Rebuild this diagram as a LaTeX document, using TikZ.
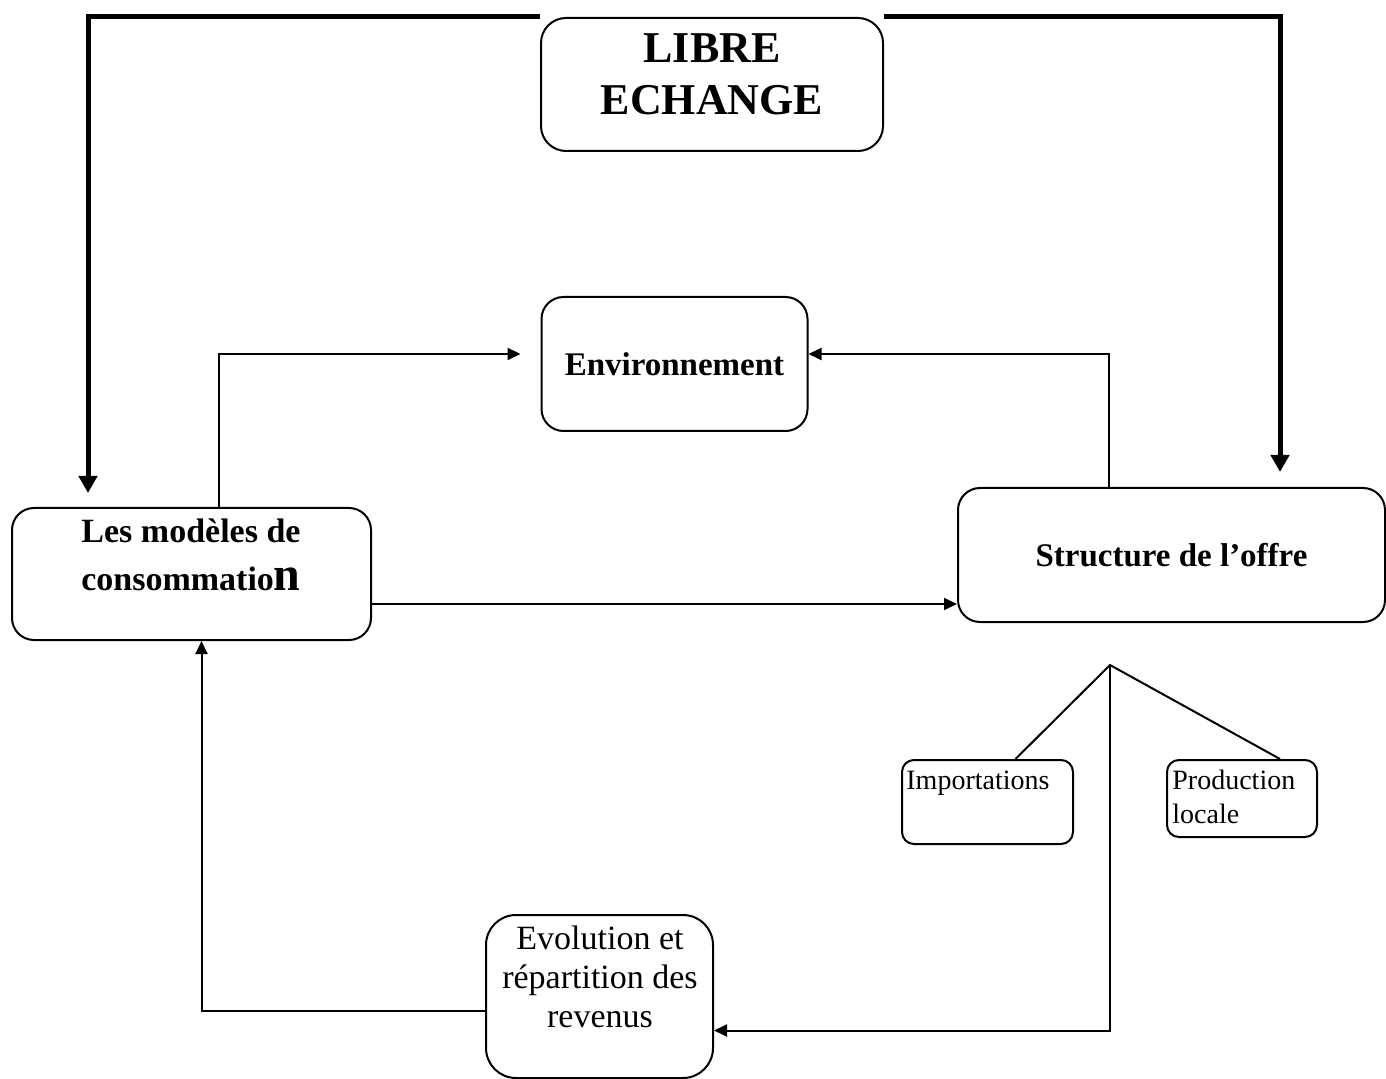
\documentclass[tikz,border=0pt]{standalone}
\usepackage{fontspec}
\newfontfamily\timesfont{Liberation Serif}
\usetikzlibrary{arrows.meta,positioning}

\begin{document}
\begin{tikzpicture}[
  x=0.5pt, y=-0.5pt,
  box/.style={draw, line width=1pt, rounded corners=11pt, inner sep=0pt},
  smallbox/.style={draw, line width=1pt, rounded corners=6pt, inner sep=0pt},
  boldtxt/.style={font=\timesfont\bfseries\fontsize{16.5}{20}\selectfont, align=center},
  plaintxt/.style={font=\timesfont\fontsize{14}{17}\selectfont, align=left, inner sep=0pt},
  arrow/.style={-{Triangle[length=6.5pt,width=6pt]}, line width=1pt},
  link/.style={line width=1pt},
  heavy/.style={-{Triangle[length=8.5pt,width=9pt]}, line width=2.5pt}
]
\useasboundingbox (0,0) rectangle (1386,1079);

% boxes
\node[box, rounded corners=12.5pt, minimum width=171pt, minimum height=66.5pt] (libre) at (712,84.5) {};
\node[box, minimum width=133pt, minimum height=67pt, boldtxt] (env) at (674.5,364) {Environnement};
\node[box, minimum width=179.5pt, minimum height=66pt] (modeles) at (191.5,574) {};
\node[box, minimum width=213.5pt, minimum height=67pt, boldtxt] (offre) at (1171.5,555) {Structure de l’offre};
\node[smallbox, minimum width=85.5pt, minimum height=42pt] (import) at (987.5,802) {};
\node[smallbox, minimum width=75pt, minimum height=38.5pt] (prod) at (1242,798.5) {};
\node[box, rounded corners=15pt, minimum width=113.5pt, minimum height=81.5pt] (evol) at (599.5,996.5) {};

% texts
\node[boldtxt, font=\timesfont\bfseries\fontsize{22}{26}\selectfont, inner sep=0pt] (libretxt) at ([yshift=5pt]libre.center) {LIBRE\\ECHANGE};
\node[boldtxt, font=\timesfont\bfseries\fontsize{17}{24}\selectfont, inner sep=0pt, anchor=north] (modelestxt) at (191,518)
  {Les modèles de\\consommatio{\fontsize{24}{24}\selectfont n}};
\node[plaintxt, anchor=north west] (importtxt) at (906,770.5) {Importations};
\node[plaintxt, anchor=north west] (prodtxt) at (1172,770) {Production\\locale};
\node[plaintxt, font=\timesfont\fontsize{17}{19.5}\selectfont, align=center, anchor=north] (evoltxt) at (600,926)
  {Evolution et\\répartition des\\revenus};

\coordinate (lefttip) at (88,493);
\coordinate (righttip) at (1280,472);
\coordinate (fork) at (1110,665);

% connectors
\draw[heavy] (libre.north west) -| (lefttip);
\draw[heavy] (libre.north east) -| (righttip);
\draw[arrow] (modeles.north west) ++(208,0) |- ([xshift=-10pt,yshift=5pt]env.west);
\draw[arrow] (offre.north west) ++(152,0) |- ([yshift=5pt]env.east);
\draw[arrow] ([yshift=-15pt]modeles.east) -- ([yshift=-15pt]modeles.east -| offre.west);
\draw[link] ([xshift=14pt]import.north) -- (fork) -- ([xshift=19pt]prod.north);
\draw[arrow] (fork) |- ([yshift=-17pt]evol.east);
\draw[arrow] ([yshift=-7pt]evol.west) -| ([xshift=5pt]modeles.south);
\end{tikzpicture}
\end{document}
